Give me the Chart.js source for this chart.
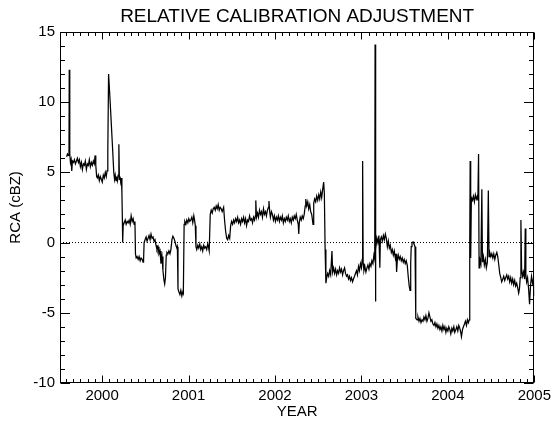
<!DOCTYPE html>
<html>
<head>
<meta charset="utf-8">
<script src="https://cdn.jsdelivr.net/npm/chart.js@4.4.1/dist/chart.umd.min.js"></script>
<style>
  html, body { margin: 0; padding: 0; background: #fff; }
  #wrap { width: 555px; height: 421px; }
</style>
</head>
<body>
<div id="wrap"><canvas id="c" width="555" height="421"></canvas></div>
<script>
// ---- data ----
const xMin = 1999.513, xMax = 2005.0;
const yMin = -10, yMax = 15;
const xTickLabels = [2000, 2001, 2002, 2003, 2004, 2005];
const yTickLabels = [-10, -5, 0, 5, 10, 15];
const zeroLineX = [1999.513, 2005.0];
const zeroLineY = [0, 0];

const years = [
1999.590,1999.599,1999.609,1999.617,1999.620,1999.626,1999.634,1999.642,1999.649,1999.657,
1999.668,1999.680,1999.691,1999.703,1999.714,1999.726,1999.737,1999.749,1999.760,1999.772,
1999.783,1999.795,1999.806,1999.818,1999.830,1999.841,1999.852,1999.864,1999.876,1999.887,
1999.899,1999.910,1999.919,1999.927,1999.937,1999.945,1999.956,1999.968,1999.979,1999.991,
2000.002,2000.014,2000.025,2000.037,2000.048,2000.057,2000.066,2000.075,2000.089,2000.106,
2000.123,2000.135,2000.144,2000.152,2000.161,2000.169,2000.178,2000.186,2000.194,2000.200,
2000.207,2000.215,2000.223,2000.229,2000.235,2000.238,2000.244,
2000.255,2000.267,2000.278,2000.290,2000.301,2000.313,2000.325,2000.336,2000.348,2000.359,
2000.371,2000.380,2000.386,2000.394,2000.405,2000.417,2000.428,2000.440,2000.451,2000.463,
2000.474,2000.480,2000.486,2000.497,2000.509,2000.520,2000.532,2000.543,2000.555,2000.566,
2000.578,2000.589,2000.601,2000.612,2000.624,2000.635,2000.647,2000.658,2000.670,2000.681,
2000.693,2000.704,2000.716,2000.724,2000.733,2000.742,2000.750,2000.762,2000.773,2000.785,
2000.796,2000.808,2000.819,2000.831,2000.842,2000.854,2000.865,2000.871,2000.878,2000.888,
2000.900,2000.911,2000.923,2000.934,2000.940,2000.949,2000.957,2000.969,2000.980,2000.992,
2001.003,2001.015,2001.026,2001.038,2001.049,2001.061,2001.072,2001.078,2001.086,2001.095,
2001.107,2001.118,2001.130,2001.141,2001.153,2001.164,2001.176,2001.187,2001.199,2001.210,
2001.222,2001.233,2001.239,2001.251,2001.262,2001.274,2001.285,2001.297,2001.309,2001.320,
2001.332,2001.343,2001.355,2001.366,2001.378,2001.389,2001.406,2001.418,2001.429,2001.441,
2001.452,2001.464,2001.476,2001.487,2001.498,2001.510,
2001.522,2001.533,2001.545,2001.556,2001.568,2001.579,2001.591,2001.602,2001.614,2001.625,
2001.637,2001.648,2001.660,2001.671,2001.683,2001.694,2001.706,2001.717,2001.729,2001.740,
2001.752,2001.763,2001.773,2001.778,2001.786,2001.798,2001.809,2001.821,2001.832,2001.844,
2001.855,2001.867,2001.878,2001.890,2001.901,2001.913,2001.924,2001.930,2001.939,2001.947,
2001.959,2001.970,2001.982,2001.993,2002.005,2002.016,2002.028,2002.039,2002.051,2002.062,
2002.074,2002.085,2002.097,2002.108,2002.120,2002.131,2002.143,2002.154,2002.166,2002.177,
2002.189,2002.200,2002.212,2002.223,2002.235,2002.246,2002.258,2002.269,2002.275,2002.281,
2002.292,2002.304,2002.315,2002.327,2002.338,2002.350,2002.356,2002.367,2002.379,2002.390,
2002.402,2002.413,2002.425,2002.440,2002.448,2002.459,2002.471,2002.482,2002.494,2002.506,
2002.517,2002.529,2002.540,2002.552,2002.563,2002.571,2002.580,2002.589,2002.598,2002.609,
2002.621,2002.632,2002.644,2002.659,2002.667,2002.678,2002.690,2002.701,2002.713,2002.724,
2002.736,2002.747,2002.759,2002.770,2002.782,2002.793,2002.805,2002.816,2002.828,2002.839,
2002.851,2002.862,2002.874,2002.885,2002.897,2002.908,2002.920,2002.931,2002.943,2002.954,
2002.966,2002.977,2002.989,2003.000,2003.009,2003.014,2003.020,2003.029,2003.040,2003.052,
2003.064,2003.075,2003.087,2003.098,2003.110,2003.121,2003.133,2003.144,2003.154,2003.158,
2003.162,2003.167,2003.179,2003.190,2003.202,2003.213,2003.219,2003.231,2003.242,2003.254,
2003.265,2003.277,2003.288,2003.300,2003.311,2003.323,2003.334,2003.346,2003.357,2003.369,
2003.380,2003.392,2003.400,2003.407,2003.415,2003.426,2003.438,2003.449,2003.461,2003.472,
2003.484,2003.495,2003.507,2003.518,2003.530,2003.541,2003.553,2003.562,2003.570,2003.576,
2003.585,2003.597,2003.608,2003.620,2003.626,2003.631,
2003.643,2003.654,2003.666,2003.677,2003.689,2003.700,2003.712,2003.723,2003.735,2003.746,
2003.758,2003.769,2003.781,2003.792,2003.804,2003.815,2003.827,2003.839,2003.850,2003.862,
2003.873,2003.885,2003.896,2003.908,2003.919,2003.931,2003.942,2003.954,2003.965,2003.977,
2003.988,2004.000,2004.011,2004.023,2004.034,2004.046,2004.057,2004.069,2004.080,2004.092,
2004.103,2004.115,2004.126,2004.138,2004.149,2004.157,2004.169,2004.180,2004.192,2004.203,
2004.215,2004.226,2004.238,2004.247,2004.253,2004.258,2004.264,2004.272,2004.284,2004.295,
2004.307,2004.318,2004.330,2004.341,2004.347,2004.355,2004.361,2004.370,2004.382,2004.393,
2004.400,2004.411,2004.422,2004.434,2004.445,2004.457,2004.468,2004.476,2004.485,2004.497,
2004.508,2004.520,2004.531,2004.543,2004.554,2004.566,2004.577,2004.589,2004.600,2004.612,
2004.623,2004.635,2004.646,2004.658,2004.669,2004.681,2004.692,2004.704,2004.715,2004.727,
2004.738,2004.750,2004.761,2004.773,2004.784,2004.796,2004.807,2004.819,2004.828,2004.837,
2004.845,2004.853,2004.865,2004.876,2004.888,2004.895,2004.902,2004.911,2004.922,2004.934,
2004.945,2004.957,2004.968,2004.980,2004.991,2004.998
];

const rca = [
6.1,6.3,6.2,6.5,12.3,6.3,5.7,5.9,5.1,5.8,
5.7,5.9,5.6,5.8,6.0,5.7,5.9,5.4,5.7,5.2,
5.6,5.5,5.8,5.2,5.6,5.5,5.9,5.4,5.7,5.5,
5.8,5.6,6.2,5.5,4.7,4.6,4.8,4.4,4.7,4.5,
4.3,4.8,4.6,5.0,4.7,5.1,6.5,12.0,10.5,8.5,
6.5,5.0,4.5,4.8,4.4,4.7,4.4,4.8,7.0,4.5,
4.7,4.3,4.6,3.6,1.5,0.0,1.2,
1.4,1.6,1.3,1.5,1.4,1.6,1.3,1.9,1.5,1.7,
1.3,1.5,-0.8,-1.1,-1.0,-1.2,-1.0,-1.3,-1.1,-1.2,
-1.4,-1.2,0.0,0.2,0.4,0.1,0.3,0.5,0.2,0.6,
0.3,0.4,0.1,0.2,-0.2,-0.5,-0.3,-0.8,-0.6,-1.5,
-1.0,-2.0,-2.7,-2.95,-2.5,-0.9,-0.7,-0.8,-0.6,-0.8,
-0.5,0.2,0.45,0.3,0.1,-0.2,-0.4,-0.3,-3.3,-3.5,
-3.7,-3.4,-3.8,-3.5,-3.6,1.3,1.5,1.3,1.6,1.4,
1.7,1.5,1.6,1.8,1.4,1.9,1.5,1.2,-0.3,-0.5,
-0.2,-0.4,-0.1,-0.5,-0.3,-0.6,-0.2,-0.4,-0.3,-0.5,
-0.1,-0.4,-0.6,2.0,2.3,2.1,2.4,2.5,2.3,2.6,
2.4,2.7,2.3,2.5,2.4,2.2,2.5,1.5,0.8,0.3,
0.2,0.5,0.3,1.2,1.5,1.3,
1.6,1.4,1.7,1.5,1.8,1.4,1.6,1.3,1.7,1.5,
1.8,1.4,1.7,1.2,1.6,1.5,1.9,1.6,1.7,1.4,
1.8,1.6,1.9,3.0,1.8,2.1,1.8,2.3,2.0,2.2,
1.8,2.4,2.0,2.2,1.9,2.3,2.5,2.95,2.2,1.8,
2.2,2.0,1.6,1.9,1.5,1.8,1.6,1.9,1.5,1.8,
1.6,1.9,1.4,1.7,1.5,1.8,1.6,1.9,1.5,1.7,
1.4,1.8,1.6,1.9,1.7,2.0,1.6,1.3,0.6,1.4,
1.8,1.6,1.9,1.7,2.0,2.6,3.1,2.6,2.9,2.4,
2.7,2.2,2.0,1.3,2.8,3.1,2.9,3.3,3.0,3.4,
3.1,3.6,3.2,3.8,4.3,3.5,-0.5,-2.9,-2.5,-2.2,
-2.4,-2.0,-2.3,-0.6,-2.1,-1.8,-2.2,-1.9,-2.3,-2.0,
-2.2,-1.8,-2.1,-1.9,-2.3,-2.0,-1.8,-2.2,-2.4,-2.3,
-2.6,-2.4,-2.7,-2.5,-2.8,-2.6,-2.4,-2.2,-2.0,-2.3,
-1.7,-2.0,-1.5,-1.8,-1.2,5.8,-1.5,-2.0,-1.7,-2.1,
-1.8,-1.6,-1.9,-1.5,-1.7,-1.3,-1.5,-0.9,-1.2,14.1,
-4.2,-0.5,0.3,0.0,0.5,-1.8,0.2,0.4,0.1,0.5,
0.2,0.6,0.3,-0.3,0.1,-0.4,-0.2,-0.7,-0.5,-0.9,
-0.6,-1.1,-0.8,-2.1,-1.3,-0.9,-1.2,-1.0,-1.3,-1.1,
-1.4,-1.2,-1.5,-1.3,-1.6,-2.4,-3.1,-3.4,-1.5,-0.3,
0.0,0.05,-0.1,-0.3,-1.5,-5.4,
-5.5,-5.3,-5.6,-5.4,-5.7,-5.5,-5.6,-5.3,-5.5,-5.2,
-5.6,-5.4,-5.0,-5.3,-5.6,-5.5,-5.8,-5.9,-5.7,-6.0,
-5.8,-6.1,-5.9,-6.2,-6.0,-6.3,-5.9,-6.2,-6.0,-6.4,
-6.1,-6.3,-6.0,-6.2,-6.5,-6.1,-6.3,-6.0,-6.4,-6.2,
-6.0,-6.3,-5.9,-6.1,-6.4,-6.7,-6.2,-6.0,-5.8,-5.6,
-5.9,-5.5,-5.7,-5.5,0.0,5.8,-1.1,3.2,3.0,3.3,
2.9,3.4,3.1,3.3,3.0,6.3,-1.8,-1.2,-1.5,3.8,
-1.4,-1.0,-1.6,-1.2,-1.8,-1.4,3.7,-1.0,-0.7,-1.0,
-0.8,-1.1,-0.8,-1.2,-0.9,-0.7,-1.0,-1.6,-2.2,-2.5,
-2.8,-2.6,-2.4,-2.7,-2.5,-2.3,-2.6,-2.4,-2.8,-2.5,
-2.9,-2.6,-3.0,-2.7,-3.1,-2.9,-3.2,-3.6,-3.3,-2.5,
1.6,-1.9,-2.4,-2.1,-2.6,1.0,-2.3,-2.8,-2.5,-3.3,
-4.4,-3.0,-2.4,-2.9,-2.6,-3.8
];

// ---- chart ----
const FONT = "'Liberation Sans', Arial, Helvetica, sans-serif";

const framePlugin = {
  id: 'frame',
  afterDraw(chart) {
    const { ctx, chartArea: a, scales: { x, y } } = chart;
    ctx.save();
    ctx.strokeStyle = '#000';
    ctx.lineWidth = 1;
    const L = Math.round(a.left) + 0.5, R = Math.round(a.right) - 0.5;
    const T = Math.round(a.top) + 0.5, B = Math.round(a.bottom) - 0.5;
    ctx.strokeRect(L, T, R - L, B - T);
    ctx.beginPath();
    // monthly minor ticks, yearly major ticks (inward, bottom and top)
    for (let m = Math.ceil(x.min * 12); m <= Math.floor(x.max * 12 + 1e-6); m++) {
      const px = Math.round(x.getPixelForValue(m / 12)) + 0.5;
      const len = (m % 12 === 0) ? 7 : 3.5;
      ctx.moveTo(px, B); ctx.lineTo(px, B - len);
      ctx.moveTo(px, T); ctx.lineTo(px, T + len);
    }
    // unit minor ticks, major every 5 (inward, left and right)
    for (let v = Math.ceil(y.min); v <= Math.floor(y.max); v++) {
      const py = Math.round(y.getPixelForValue(v)) + 0.5;
      const len = (v % 5 === 0) ? 9.5 : 4.5;
      ctx.moveTo(L, py); ctx.lineTo(L + len, py);
      ctx.moveTo(R, py); ctx.lineTo(R - len, py);
    }
    ctx.stroke();
    ctx.restore();
  }
};

new Chart(document.getElementById('c'), {
  type: 'line',
  data: {
    datasets: [
      {
        data: years.map((t, i) => ({ x: t, y: rca[i] })),
        borderColor: '#000',
        borderWidth: 1.25,
        pointRadius: 0,
        tension: 0,
        fill: false
      },
      {
        data: zeroLineX.map((t, i) => ({ x: t, y: zeroLineY[i] })),
        borderColor: '#000',
        borderWidth: 1,
        borderDash: [1, 2],
        pointRadius: 0,
        fill: false
      }
    ]
  },
  plugins: [framePlugin],
  options: {
    responsive: false,
    devicePixelRatio: 1,
    animation: false,
    events: [],
    layout: { padding: { left: 0, right: 18, top: 0, bottom: 0 } },
    plugins: {
      legend: { display: false },
      tooltip: { enabled: false },
      title: {
        display: true,
        fullSize: false,
        text: 'RELATIVE CALIBRATION ADJUSTMENT',
        color: '#000',
        font: { family: FONT, size: 19, weight: 'normal', lineHeight: 1.2 },
        padding: { top: 5, bottom: 4 }
      }
    },
    scales: {
      x: {
        type: 'linear',
        min: xMin,
        max: xMax,
        grid: { display: false, drawTicks: false },
        border: { display: false },
        afterBuildTicks: (s) => { s.ticks = xTickLabels.map(v => ({ value: v })); },
        afterFit: (s) => { s.height = 38; },
        ticks: {
          color: '#000',
          padding: 4,
          maxRotation: 0,
          font: { family: FONT, size: 15 },
          callback: (v) => String(v)
        },
        title: {
          display: true,
          text: 'YEAR',
          color: '#000',
          font: { family: FONT, size: 15, lineHeight: 1.2 },
          padding: { top: 0, bottom: 0 }
        }
      },
      y: {
        type: 'linear',
        min: yMin,
        max: yMax,
        grid: { display: false, drawTicks: false },
        border: { display: false },
        afterBuildTicks: (s) => { s.ticks = yTickLabels.map(v => ({ value: v })); },
        afterFit: (s) => { s.width = 60; },
        ticks: {
          color: '#000',
          padding: 5,
          font: { family: FONT, size: 15 },
          callback: (v) => String(v)
        },
        title: {
          display: true,
          text: 'RCA (cBZ)',
          color: '#000',
          font: { family: FONT, size: 15, lineHeight: 1.2 },
          padding: { top: 7, bottom: 0 }
        }
      }
    }
  }
});
</script>
</body>
</html>
